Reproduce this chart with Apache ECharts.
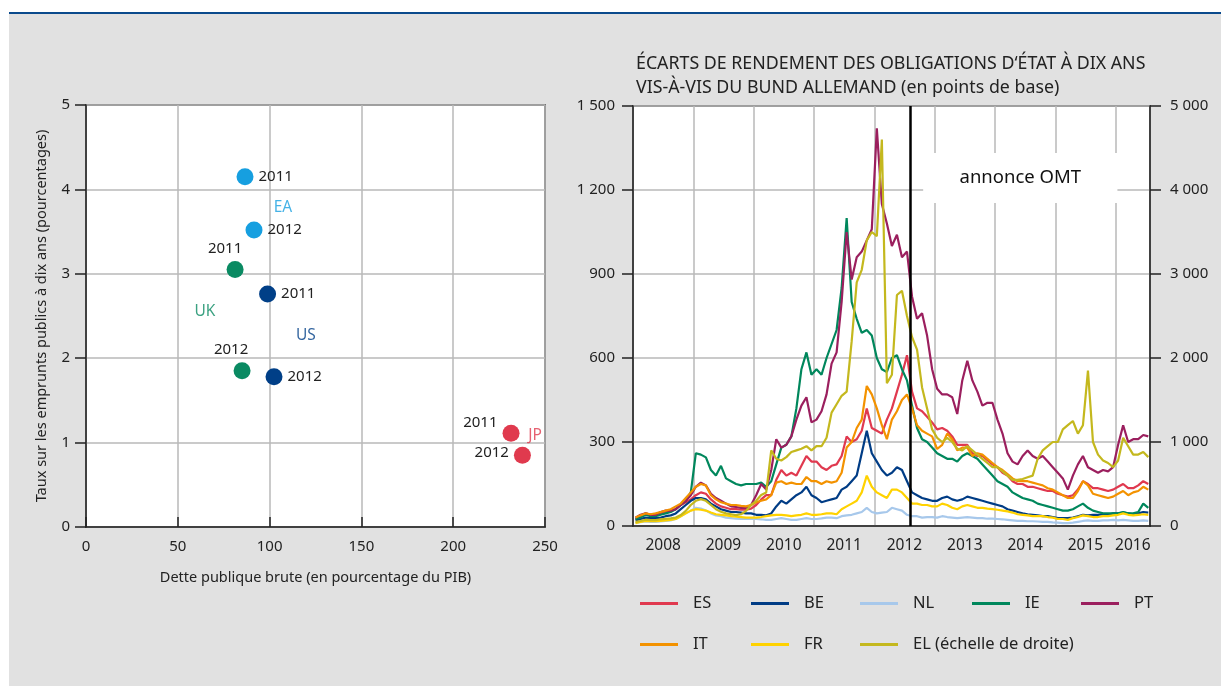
<!DOCTYPE html>
<html><head><meta charset="utf-8">
<script src="https://cdn.jsdelivr.net/npm/echarts@6/dist/echarts.min.js"></script>
<style>
html,body{margin:0;padding:0;background:#fff;}
#bg{position:absolute;left:9px;top:14px;width:1212px;height:672px;background:#e1e1e1;}
#rule{position:absolute;left:9px;top:12px;width:1212px;height:2px;background:#0a4a8c;}
#chart{position:absolute;left:0;top:0;width:1221px;height:686px;}
</style></head>
<body><div id="bg"></div><div id="rule"></div><div id="chart"></div>
<script>
// ---------- Left panel: debt vs 10-year yield ----------
const scatterYears = ['2011', '2012'];
const eaDebt = [86.6, 91.5],  eaYield = [4.15, 3.52];
const ukDebt = [81.2, 85.0],  ukYield = [3.05, 1.85];
const usDebt = [98.9, 102.4], usYield = [2.76, 1.78];
const jpDebt = [231.5, 237.7], jpYield = [1.11, 0.85];
const groupNames = ['EA', 'UK', 'US', 'JP'];

// ---------- Right panel: 10-year spreads vs Bund (monthly, from Jan 2008) ----------
const startYear = 2008;
const es = [25,32,45,40,40,45,50,55,60,75,85,95,
  110,120,115,95,80,70,65,60,60,58,58,62,
  75,95,110,110,165,200,180,190,180,215,250,230,
  230,210,200,215,220,250,320,300,310,340,420,350,
  340,330,380,420,480,540,610,480,420,410,390,370,
  345,350,340,320,290,290,290,260,250,250,235,220,
  210,190,180,160,150,150,140,140,135,130,125,125,
  115,110,105,110,130,160,150,135,135,130,125,130,
  140,150,135,135,145,160,150];
const be = [20,25,30,28,28,30,35,38,45,60,75,90,
  100,100,95,80,70,60,55,50,50,48,45,45,
  40,40,38,45,70,90,80,95,110,120,140,110,
  100,85,90,95,100,130,140,160,180,260,340,260,
  230,200,180,190,210,200,160,120,110,100,95,90,
  90,100,105,95,90,95,105,100,95,90,85,80,
  75,70,60,55,50,45,42,40,38,35,35,32,
  28,28,28,30,35,40,38,40,40,42,40,45,
  45,48,45,42,45,50,48];
const nl = [10,14,16,15,15,16,18,20,25,35,45,55,
  65,62,55,45,38,35,30,28,26,25,25,25,
  25,24,22,22,25,28,25,22,22,25,28,25,
  25,27,30,30,28,35,38,40,45,50,65,50,
  45,48,50,65,60,55,40,35,35,30,32,32,
  30,35,32,30,28,30,32,30,28,28,26,26,
  25,24,22,20,18,18,17,17,16,15,15,13,
  12,10,10,12,15,18,20,18,18,20,20,22,
  20,22,20,18,18,20,18];
const ie = [25,30,40,35,35,40,45,50,60,75,90,120,
  260,255,245,200,180,215,170,160,150,145,150,150,
  150,155,140,160,220,280,290,320,420,560,620,540,
  560,540,600,650,700,850,1100,800,740,690,700,680,
  600,560,550,600,610,560,520,430,350,310,300,280,
  260,250,240,240,230,250,260,250,240,220,200,180,
  160,150,140,120,110,100,95,90,80,75,70,65,
  60,55,55,60,70,80,65,55,50,45,45,45,
  45,50,45,45,50,80,65];
const pt = [30,40,45,40,40,50,55,55,60,75,90,110,
  140,155,145,115,100,90,80,70,68,65,65,75,
  110,150,130,200,310,280,290,320,380,430,460,370,
  380,410,470,580,620,800,1050,880,960,980,1020,1060,
  1420,1150,1080,1000,1040,960,980,820,740,760,680,560,
  490,470,470,460,400,520,590,520,480,430,440,440,
  380,330,260,230,220,250,270,250,240,250,230,210,
  190,170,130,180,220,250,210,200,190,200,195,210,
  290,360,300,310,310,325,320];
const it = [30,38,45,42,45,50,55,60,70,80,100,120,
  140,150,145,110,95,85,80,75,75,72,70,75,
  85,90,95,110,155,160,150,155,150,150,175,160,
  160,150,160,155,160,190,280,300,350,380,500,470,
  420,360,310,380,410,450,470,420,360,340,330,320,
  275,290,330,310,270,280,280,250,260,255,240,225,
  210,200,185,170,160,160,160,155,150,145,135,130,
  120,110,100,100,125,160,145,115,110,105,100,105,
  115,125,110,120,125,140,130];
const fr = [10,15,18,17,17,18,20,22,25,35,45,55,
  60,58,55,48,42,40,38,35,33,32,30,30,
  30,32,35,38,40,40,38,35,38,40,45,40,
  40,42,45,45,42,60,70,80,90,120,180,140,
  120,110,100,130,130,120,100,80,80,75,75,70,
  70,80,75,65,60,70,75,70,65,65,62,60,
  58,55,52,48,42,40,38,35,35,35,32,30,
  25,25,22,28,32,38,35,32,32,35,35,38,
  40,45,40,38,40,42,40];
const el = [50,60,75,70,70,80,85,90,100,130,180,250,
  300,320,300,250,200,170,150,140,130,140,180,250,
  300,370,400,900,800,780,820,880,900,920,950,900,
  950,950,1050,1350,1450,1550,1600,2200,2900,3050,3400,3500,
  3450,4600,1700,1800,2750,2800,2500,2250,2100,1650,1400,1150,
  1050,1000,1050,1000,920,900,950,900,850,800,750,700,
  700,650,600,550,550,560,580,600,800,900,950,1000,
  1000,1150,1200,1250,1100,1200,1850,1000,850,780,750,700,
  780,1050,950,850,850,880,820];
const spreadNames = ['ES','BE','NL','IE','PT','IT','FR','EL (échelle de droite)'];
const yearTicks = [2008,2009,2010,2011,2012,2013,2014,2015,2016];
const omtDate = 2012.585;           // 2 Aug 2012 as fractional year
const omtLabel = 'annonce OMT';

// ---------- styles / layout ----------
const FONT = '"Noto Sans", "Open Sans", sans-serif';
const TXT = '#222';
const GRIDC = '#b8b8b8';
const groupColors = {EA:'#169fe0', UK:'#0a8a62', US:'#003f87', JP:'#e03a4e'};
const spreadColors = ['#e0394f','#003c85','#a7c8eb','#00875c','#9b1f5e','#f39200','#ffd200','#c4b81e'];
const pointLabelPos = {
  EA: [{position:'right'}, {position:'right'}],
  UK: [{position:'top', offset:[-10,0]}, {position:'top', offset:[-11,0]}],
  US: [{position:'right'}, {position:'right'}],
  JP: [{position:'left', offset:[0,-11]}, {position:'left', offset:[0,-3]}]
};
const groupLabelAt = {EA:[107.3,3.79], UK:[64.8,2.55], US:[119.8,2.27], JP:[244.6,1.08]};
const omtBox = [[2012.81, 1332], [2016.03, 1154]];
const xMaxYear = 2016.57;
const legendCols = [640, 751, 860, 972, 1081];
const legendRows = [595, 636];

const fmtSpace = v => String(v).replace(/\B(?=(\d{3})+(?!\d))/g, ' ');

const scatterData = {
  EA: [eaDebt, eaYield], UK: [ukDebt, ukYield], US: [usDebt, usYield], JP: [jpDebt, jpYield]
};

const scatterSeries = [];
groupNames.forEach(g => {
  const [dx, dy] = scatterData[g];
  scatterSeries.push({
    type: 'scatter', xAxisIndex: 0, yAxisIndex: 0, symbolSize: 17, silent: true,
    itemStyle: {color: groupColors[g], opacity: 1},
    data: dx.map((d, i) => ({
      value: [d, dy[i]],
      label: Object.assign({show: true, formatter: scatterYears[i], distance: 5,
        color: TXT, fontSize: 15, fontFamily: FONT}, pointLabelPos[g][i])
    }))
  });
  scatterSeries.push({
    type: 'scatter', xAxisIndex: 0, yAxisIndex: 0, symbolSize: 1, silent: true,
    itemStyle: {color: 'transparent'},
    data: [{value: groupLabelAt[g], label: {show: true, position: 'inside', formatter: g,
      color: groupColors[g], fontSize: 15.5, fontFamily: FONT}}]
  });
});

const spreadData = [es, be, nl, ie, pt, it, fr, el];
const lineSeries = spreadData.map((arr, k) => {
  const s = {
    name: spreadNames[k], type: 'line', xAxisIndex: 1, yAxisIndex: k === 7 ? 2 : 1,
    showSymbol: false, symbol: 'none', silent: true,
    color: spreadColors[k],
    lineStyle: {width: 2.2, color: spreadColors[k]},
    data: arr.map((v, i) => [startYear + (i + 0.5) / 12, v])
  };
  if (k === 0) {
    s.markArea = {silent: true, itemStyle: {color: '#fff'},
      label: {show: true, position: 'inside', color: '#111', fontSize: 18.5, fontFamily: FONT},
      data: [[{name: omtLabel, xAxis: omtBox[0][0], yAxis: omtBox[0][1]},
              {xAxis: omtBox[1][0], yAxis: omtBox[1][1]}]]};
    s.markLine = {silent: true, symbol: ['none','none'], label: {show: false},
      lineStyle: {color: '#000', width: 2.5, type: 'solid'},
      data: [{xAxis: omtDate}]};
  }
  return s;
});

const axisLineStyle = {lineStyle: {color: '#222', width: 1.5}};
const labelStyle = {color: TXT, fontSize: 15, fontFamily: FONT};

const legends = spreadNames.map((n, k) => ({
  left: legendCols[k < 5 ? k : k - 5], top: legendRows[k < 5 ? 0 : 1],
  padding: 0, itemWidth: 38, itemHeight: 3, icon: 'rect', selectedMode: false,
  data: [n],
  textStyle: {color: TXT, fontSize: 16.5, fontFamily: FONT, padding: [0, 0, 0, 10]}
}));

const option = {
  animation: false,
  backgroundColor: 'transparent',
  title: {
    text: 'ÉCARTS DE RENDEMENT DES OBLIGATIONS D‘ÉTAT À DIX ANS\nVIS-À-VIS DU BUND ALLEMAND (en points de base)',
    left: 631, top: 47,
    textStyle: {fontSize: 17.8, fontWeight: 'normal', color: TXT, lineHeight: 24, fontFamily: FONT}
  },
  legend: legends,
  grid: [
    {left: 86, top: 105, width: 459, height: 422, show: true, backgroundColor: '#fff',
     borderColor: '#222', borderWidth: 1.5},
    {left: 633, top: 106, width: 517, height: 420, show: true, backgroundColor: '#fff',
     borderColor: '#222', borderWidth: 1.5}
  ],
  xAxis: [
    {gridIndex: 0, type: 'value', min: 0, max: 250, interval: 50,
     axisLine: axisLineStyle,
     axisTick: {show: true, inside: true, length: 10, lineStyle: {color: '#222', width: 1.5}},
     splitLine: {show: true, lineStyle: {color: GRIDC, width: 1.5}},
     axisLabel: Object.assign({margin: 12}, labelStyle),
     name: 'Dette publique brute (en pourcentage du PIB)', nameLocation: 'middle', nameGap: 43,
     nameTextStyle: {color: TXT, fontSize: 14.5, fontFamily: FONT}},
    {gridIndex: 1, type: 'value', min: yearTicks[0], max: xMaxYear, interval: 1,
     axisLine: axisLineStyle, axisTick: {show: false},
     splitLine: {show: true, lineStyle: {color: GRIDC, width: 1.5}},
     axisLabel: Object.assign({margin: 12,
       customValues: yearTicks.map(y => y === 2016 ? (2016 + xMaxYear) / 2 : y + 0.5),
       formatter: v => String(Math.floor(v))}, labelStyle, {fontSize: 15.5})}
  ],
  yAxis: [
    {gridIndex: 0, type: 'value', min: 0, max: 5, interval: 1,
     axisLine: Object.assign({show: true}, axisLineStyle),
     axisTick: {show: true, length: 11, lineStyle: {color: '#222', width: 1.5}},
     splitLine: {show: true, lineStyle: {color: GRIDC, width: 1.5}},
     axisLabel: Object.assign({margin: 16}, labelStyle),
     name: 'Taux sur les emprunts publics à dix ans (pourcentages)', nameLocation: 'middle', nameGap: 37,
     nameTextStyle: {color: TXT, fontSize: 14.5, fontFamily: FONT}},
    {gridIndex: 1, type: 'value', min: 0, max: 1500, interval: 300,
     axisLine: Object.assign({show: true}, axisLineStyle),
     axisTick: {show: true, length: 11, lineStyle: {color: '#222', width: 1.5}},
     splitLine: {show: true, lineStyle: {color: GRIDC, width: 1.5}},
     axisLabel: Object.assign({margin: 18, formatter: fmtSpace}, labelStyle)},
    {gridIndex: 1, type: 'value', position: 'right', min: 0, max: 5000, interval: 1000,
     axisLine: Object.assign({show: true}, axisLineStyle),
     axisTick: {show: true, length: 11, lineStyle: {color: '#222', width: 1.5}},
     splitLine: {show: false},
     axisLabel: Object.assign({margin: 20, formatter: fmtSpace}, labelStyle)}
  ],
  series: scatterSeries.concat(lineSeries)
};

const chart = echarts.init(document.getElementById('chart'), null, {renderer: 'canvas'});
chart.setOption(option);
</script></body></html>
